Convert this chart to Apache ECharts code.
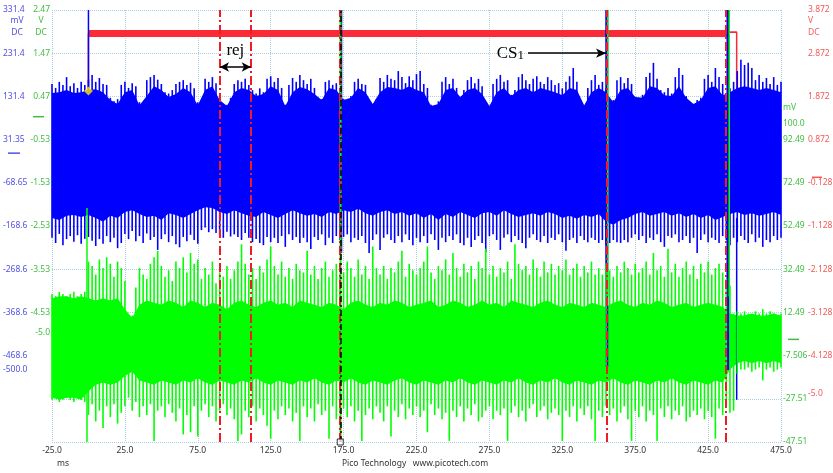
<!DOCTYPE html>
<html>
<head>
<meta charset="utf-8">
<script src="https://cdn.jsdelivr.net/npm/echarts@6/dist/echarts.min.js"></script>
<style>
  html, body { margin: 0; background: #fff; }
  #chart { width: 833px; height: 473px; }
</style>
</head>
<body>
<div id="chart"></div>
<script>
// Scope capture: blue (mV, left), green (mV, right), red (V, right), time in ms.
// Body envelopes are sampled every 5 ms, needle extents every 2.5 ms, from -25 ms.
const T0 = -25;
const BODY_STEP = 5;
const NEEDLE_STEP = 2.5;

const X_TICKS = [-25, 25, 75, 125, 175, 225, 275, 325, 375, 425, 475];

const BLUE_MV_TICKS = [331.35, 231.35, 131.35, 31.35, -68.65, -168.65, -268.65, -368.65, -468.65, -500];
const BLUE_MV_LABELS = ['331.4', '231.4', '131.4', '31.35', '-68.65', '-168.6', '-268.6', '-368.6', '-468.6', '-500.0'];
const GREEN_V_TICKS = [2.47, 1.47, 0.47, -0.53, -1.53, -2.53, -3.53, -4.53, -5];
const GREEN_V_LABELS = ['2.47', '1.47', '0.47', '-0.53', '-1.53', '-2.53', '-3.53', '-4.53', '-5.0'];
const GREEN_MV_TICKS = [100, 92.49, 72.49, 52.49, 32.49, 12.49, -7.506, -27.51, -47.51];
const GREEN_MV_LABELS = ['100.0', '92.49', '72.49', '52.49', '32.49', '12.49', '-7.506', '-27.51', '-47.51'];
const RED_V_TICKS = [3.872, 2.872, 1.872, 0.872, -0.128, -1.128, -2.128, -3.128, -4.128, -5];
const RED_V_LABELS = ['3.872', '2.872', '1.872', '0.872', '-0.128', '-1.128', '-2.128', '-3.128', '-4.128', '-5.0'];

// blue channel (mV)
const BLUE_TOP = [
  139, 141, 146, 139, 141, 146, 148, 141, 123, 114,
  141, 146, 111, 132, 155, 146, 130, 137, 151, 141,
  111, 146, 155, 123, 109, 141, 151, 146, 132, 137,
  155, 146, 109, 141, 153, 148, 137, 123, 151, 146,
  123, 128, 151, 141, 114, 141, 153, 151, 146, 155,
  146, 141, 109, 114, 146, 151, 130, 146, 151, 137,
  109, 141, 151, 132, 146, 151, 141, 151, 146, 141,
  134, 151, 146, 111, 141, 151, 141, 118, 146, 151,
  130, 128, 155, 151, 134, 132, 155, 128, 114, 123,
  151, 155, 134, 141, 151, 155, 151, 146, 151, 146,
  141];
const BLUE_BOT = [
  -150, -155, -145, -143, -148, -143, -150, -159, -145, -150,
  -136, -132, -141, -148, -145, -155, -139, -143, -150, -141,
  -132, -125, -127, -136, -141, -132, -139, -145, -148, -136,
  -143, -150, -141, -132, -139, -145, -141, -148, -136, -141,
  -132, -136, -129, -139, -145, -136, -132, -141, -136, -145,
  -139, -150, -141, -155, -141, -148, -136, -143, -150, -139,
  -136, -145, -132, -141, -148, -143, -139, -145, -136, -141,
  -150, -145, -152, -143, -148, -141, -159, -166, -155, -150,
  -141, -136, -145, -141, -136, -145, -139, -148, -141, -150,
  -143, -155, -148, -141, -136, -143, -139, -145, -141, -136,
  -143];
const BLUE_HI = [
  160, 151, 165, 158, 176, 155, 162, 151, 165, 158,
  170, 181, 165, 174, 160, 158, 128, 120, 125, 158,
  165, 151, 162, 155, 118, 114, 169, 176, 181, 170,
  160, 141, 138, 146, 160, 165, 169, 158, 163, 150,
  118, 120, 172, 165, 176, 162, 118, 114, 112, 128,
  160, 169, 165, 172, 158, 146, 138, 150, 141, 172,
  178, 165, 174, 151, 112, 158, 174, 165, 181, 169,
  160, 172, 151, 128, 125, 165, 169, 158, 162, 151,
  125, 120, 132, 165, 172, 160, 158, 118, 114, 125,
  174, 165, 181, 172, 169, 190, 176, 162, 178, 169,
  183, 190, 160, 151, 112, 109, 120, 165, 176, 160,
  172, 151, 125, 146, 169, 176, 162, 172, 155, 114,
  109, 160, 172, 181, 165, 169, 135, 146, 176, 183,
  169, 160, 172, 178, 165, 160, 176, 169, 158, 162,
  150, 165, 178, 197, 165, 112, 109, 151, 169, 181,
  158, 165, 151, 125, 123, 169, 176, 162, 174, 160,
  130, 128, 135, 176, 186, 209, 172, 146, 141, 151,
  138, 176, 197, 181, 132, 118, 114, 123, 128, 172,
  181, 165, 197, 176, 160, 118, 150, 165, 190, 216,
  204, 209, 197, 169, 181, 165, 174, 160, 176, 158,
  165];
const BLUE_LO = [
  -196, -208, -187, -213, -199, -192, -205, -190, -210, -198,
  -194, -203, -215, -199, -210, -192, -206, -196, -220, -208,
  -187, -199, -180, -204, -192, -208, -186, -201, -194, -224,
  -199, -188, -206, -192, -211, -218, -194, -204, -189, -201,
  -210, -178, -172, -183, -176, -185, -190, -196, -182, -193,
  -188, -194, -201, -185, -196, -206, -199, -208, -213, -194,
  -206, -196, -208, -192, -217, -188, -201, -194, -208, -196,
  -206, -222, -194, -201, -188, -213, -196, -208, -192, -201,
  -194, -188, -206, -196, -201, -192, -208, -231, -201, -188,
  -224, -196, -188, -201, -208, -192, -206, -188, -201, -213,
  -196, -206, -192, -208, -188, -201, -224, -196, -206, -192,
  -201, -188, -208, -213, -196, -217, -201, -192, -208, -229,
  -192, -188, -201, -224, -196, -188, -206, -192, -201, -208,
  -220, -196, -188, -201, -206, -192, -208, -196, -201, -188,
  -206, -226, -201, -196, -208, -192, -201, -206, -196, -201,
  -208, -201, -213, -208, -201, -206, -208, -201, -206, -196,
  -188, -201, -192, -208, -196, -201, -188, -206, -217, -192,
  -196, -188, -206, -201, -192, -208, -196, -231, -201, -188,
  -206, -196, -201, -208, -192, -201, -213, -196, -206, -192,
  -201, -208, -188, -206, -196, -217, -201, -206, -192, -201,
  -196];
// [time ms, low mV, high mV]
const BLUE_BURSTS = [[0, 100, 331.35], [173.4, -231, 331.35], [355.5, -495, 331.35], [438.6, -502, 331.35], [444.6, -571, -150]];
const BLUE_BURST_WIDTH = [1.5, 2, 3, 3, 1.5];

// green channel (mV)
const GREEN_TOP = [
  19, 20, 20, 19, 20, 19, 18, 19, 18, 19,
  14, 10, 16, 18, 17, 16, 18, 17, 15, 18,
  17, 15, 17, 16, 14, 17, 18, 16, 15, 17,
  18, 16, 17, 15, 18, 17, 16, 15, 17, 16,
  14, 17, 18, 16, 15, 17, 16, 18, 17, 15,
  16, 17, 18, 15, 16, 18, 17, 15, 16, 18,
  16, 17, 15, 18, 17, 16, 15, 17, 18, 16,
  15, 17, 16, 15, 17, 16, 15, 17, 18, 16,
  15, 17, 16, 18, 17, 15, 16, 17, 15, 16,
  17, 16, 15, 12, 11, 11, 12, 11, 11, 12,
  11];
const GREEN_BOT = [
  -27, -28, -27, -27, -28, -24, -21, -20, -21, -20,
  -17, -15, -19, -20, -21, -19, -20, -21, -19, -20,
  -18, -20, -21, -19, -20, -21, -19, -20, -18, -20,
  -21, -19, -20, -21, -19, -20, -18, -20, -21, -19,
  -20, -18, -20, -21, -19, -20, -21, -19, -18, -20,
  -21, -19, -20, -21, -19, -20, -18, -20, -21, -19,
  -20, -21, -19, -20, -18, -20, -21, -19, -20, -18,
  -20, -21, -19, -20, -21, -19, -20, -18, -20, -21,
  -19, -20, -21, -19, -20, -18, -20, -21, -19, -20,
  -21, -19, -20, -14, -11, -10, -11, -10, -11, -10,
  -11];
const GREEN_HI = [
  21, 20, 22, 21, 20, 21, 22, 20, 21, 22,
  36, 34, 30, 37, 33, 38, 35, 29, 36, 33,
  27, 10, 11, 24, 33, 30, 28, 35, 38, 41,
  34, 29, 32, 27, 36, 33, 38, 31, 40, 35,
  37, 28, 33, 30, 36, 26, 31, 29, 34, 28,
  32, 36, 44, 35, 30, 33, 28, 34, 31, 37,
  43, 34, 30, 36, 29, 33, 28, 35, 32, 31,
  41, 30, 34, 28, 33, 36, 29, 32, 35, 30,
  31, 36, 33, 29, 37, 30, 34, 28, 43, 33,
  30, 34, 28, 33, 31, 36, 41, 29, 35, 32,
  30, 33, 36, 43, 31, 28, 34, 32, 37, 30,
  40, 33, 29, 35, 31, 34, 28, 36, 33, 42,
  30, 34, 29, 33, 31, 36, 28, 44, 35, 32,
  34, 30, 37, 33, 29, 36, 31, 35, 30, 34,
  32, 37, 30, 33, 35, 29, 34, 31, 36, 30,
  33, 30, 35, 32, 29, 34, 31, 36, 33, 30,
  35, 31, 33, 36, 30, 40, 32, 34, 29, 42,
  31, 35, 29, 33, 36, 30, 34, 28, 35, 31,
  36, 30, 33, 35, 31, 28, 25, 12, 13, 12,
  13, 12, 11, 13, 12, 14, 12, 13, 12, 11,
  12];
const GREEN_LO = [
  -28, -27, -29, -28, -27, -28, -29, -27, -28, -29,
  -35, -30, -38, -33, -41, -31, -36, -30, -39, -34,
  -31, -27, -33, -29, -36, -31, -35, -30, -47, -33,
  -31, -36, -30, -34, -38, -32, -44, -35, -43, -31,
  -45, -33, -30, -36, -31, -38, -33, -30, -35, -32,
  -37, -47, -44, -33, -36, -31, -38, -32, -35, -40,
  -46, -33, -37, -31, -35, -32, -38, -34, -47, -31,
  -36, -32, -38, -30, -35, -33, -46, -31, -37, -34,
  -32, -36, -31, -38, -33, -47, -35, -32, -37, -31,
  -34, -38, -31, -45, -33, -36, -30, -37, -32, -35,
  -31, -36, -33, -43, -30, -35, -32, -37, -34, -47,
  -33, -36, -31, -38, -32, -35, -30, -38, -36, -33,
  -31, -37, -33, -35, -32, -47, -34, -31, -36, -33,
  -38, -32, -30, -36, -33, -31, -37, -34, -32, -35,
  -47, -33, -36, -31, -38, -32, -35, -31, -37, -47,
  -33, -36, -31, -35, -32, -38, -34, -31, -37, -47,
  -33, -36, -31, -38, -33, -35, -47, -32, -36, -31,
  -37, -33, -35, -31, -38, -36, -33, -35, -32, -37,
  -33, -36, -46, -32, -35, -31, -34, -33, -16, -14,
  -14, -13, -15, -14, -13, -19, -14, -13, -15, -14,
  -13];
const GREEN_BURSTS = [[-1, -47.51, 60.8], [172.9, -47.51, 152.49], [356.2, 20, 152.49], [439.5, 20, 152.49]];
const GREEN_BURST_WIDTH = [1.5, 2, 1.5, 1.5];

// red channel (V)
const RED_T = [-25, 0, 0, 444.6, 444.6, 475];
const RED_V = [0, 0, 3.33, 3.36, 0, 0];
const RED_PLATEAU_T = [0, 438.5];
const RED_PLATEAU_V = [3.33, 3.33];

// cursors, trigger, annotations
const RED_CURSORS = [90.2, 111.3, 172.7, 355.7, 437.3];
const BLACK_CURSORS = [173.3];
const TRIGGER_POINT = [[0, 144]];          // blue mV
const TRIGGER_MARK = [[172.7, -47.51]];    // green mV (bottom edge)
const REJ_SPAN = [90.2, 111.3, 2.553];     // from, to, red V level
const CS1_SPAN = [301.5, 355, 2.872];

const FONT = '"Noto Sans", "Open Sans", sans-serif';
const SERIF = '"Liberation Serif", "DejaVu Serif", serif';
const FS = 8.5;
const C = {
  blue: '#0000ff', green: '#00ff00', red: '#fa2a36',
  blueText: '#5050e6', greenText: '#3fbf3f', redText: '#f25a5a',
  grid: '#a9cfe3', text: '#333',
};

const tBody = (i) => T0 + i * BODY_STEP;
const tNeedle = (i) => T0 + i * NEEDLE_STEP;

const pickLabel = (ticks, labels) => (v) => {
  let best = 0;
  ticks.forEach((t, i) => { if (Math.abs(t - v) < Math.abs(ticks[best] - v)) best = i; });
  return labels[best];
};

function yAxis(position, min, max, ticks, labels, color, margin, align) {
  return {
    type: 'value', position, min, max,
    axisLine: { show: false, onZero: false }, axisTick: { show: false }, splitLine: { show: false },
    axisLabel: {
      customValues: ticks, formatter: pickLabel(ticks, labels),
      color, fontSize: FS, fontFamily: FONT, margin, hideOverlap: false, align,
    },
  };
}

function bodySeries(top, bot, color, yAxisIndex) {
  return {
    type: 'custom', yAxisIndex, silent: true, z: 2,
    data: [[T0, 0]],
    renderItem: (params, api) => {
      const pts = top.map((v, i) => api.coord([tBody(i), v]));
      for (let i = bot.length - 1; i >= 0; i--) pts.push(api.coord([tBody(i), bot[i]]));
      return { type: 'polygon', shape: { points: pts }, style: { fill: color } };
    },
  };
}

function segmentSeries(data, widths, color, yAxisIndex, z) {
  return {
    type: 'custom', yAxisIndex, silent: true, z,
    data,
    renderItem: (params, api) => {
      const a = api.coord([api.value(0), api.value(1)]);
      const b = api.coord([api.value(0), api.value(2)]);
      return {
        type: 'line',
        shape: { x1: a[0], y1: a[1], x2: b[0], y2: b[1] },
        style: { stroke: color, lineWidth: widths[params.dataIndex] ?? 1.6 },
      };
    },
  };
}

const needles = (lo, hi) => hi.map((v, i) => [tNeedle(i), lo[i], v]);

const chart = echarts.init(document.getElementById('chart'));

chart.setOption({
  animation: false,
  backgroundColor: '#fff',
  grid: { left: 52, right: 52, top: 10, bottom: 31, outerBoundsMode: 'none', containLabel: false },
  xAxis: [
    {
      type: 'value', min: -25, max: 475, position: 'bottom',
      axisLine: { show: false, onZero: false }, axisTick: { show: false }, splitLine: { show: false },
      axisLabel: { customValues: X_TICKS, formatter: (v) => v.toFixed(1), color: C.text, fontSize: FS, fontFamily: FONT, margin: 4 },
    },
    {
      // graticule only
      type: 'value', min: 0, max: 10, interval: 1, position: 'top',
      axisLine: { show: false, onZero: false }, axisTick: { show: false }, axisLabel: { show: false },
      splitLine: { show: true, lineStyle: { color: C.grid, type: 'dotted', width: 1 } },
    },
  ],
  yAxis: [
    yAxis('left', -7.53, 2.47, GREEN_V_TICKS, GREEN_V_LABELS, C.greenText, 2),
    yAxis('left', -668.65, 331.35, BLUE_MV_TICKS, BLUE_MV_LABELS, C.blueText, 49, 'left'),
    yAxis('right', -47.51, 152.49, GREEN_MV_TICKS, GREEN_MV_LABELS, C.greenText, 2),
    yAxis('right', -6.128, 3.872, RED_V_TICKS, RED_V_LABELS, C.redText, 27),
    {
      type: 'value', min: 0, max: 10, interval: 1, position: 'left',
      axisLine: { show: false, onZero: false }, axisTick: { show: false }, axisLabel: { show: false },
      splitLine: { show: true, lineStyle: { color: C.grid, type: 'dotted', width: 1 } },
    },
  ],
  series: [
    {
      type: 'line', yAxisIndex: 3, silent: true, symbol: 'none', z: 1,
      data: RED_T.map((t, i) => [t, RED_V[i]]),
      lineStyle: { color: C.red, width: 1.5 },
    },
    {
      type: 'line', yAxisIndex: 3, silent: true, symbol: 'none', z: 1,
      data: RED_PLATEAU_T.map((t, i) => [t, RED_PLATEAU_V[i]]),
      lineStyle: { color: C.red, width: 7 },
    },
    bodySeries(BLUE_TOP, BLUE_BOT, C.blue, 1),
    segmentSeries(needles(BLUE_LO, BLUE_HI), [], C.blue, 1, 2),
    segmentSeries(BLUE_BURSTS, BLUE_BURST_WIDTH, C.blue, 1, 3),
    bodySeries(GREEN_TOP, GREEN_BOT, C.green, 2),
    segmentSeries(needles(GREEN_LO, GREEN_HI), [], C.green, 2, 3),
    segmentSeries(GREEN_BURSTS, GREEN_BURST_WIDTH, C.green, 2, 4),
    {
      type: 'scatter', yAxisIndex: 1, silent: true, z: 6,
      data: TRIGGER_POINT, symbol: 'diamond', symbolSize: 9,
      itemStyle: { color: '#ffe800' },
    },
    {
      type: 'scatter', yAxisIndex: 2, silent: true, z: 7, clip: false,
      data: TRIGGER_MARK, symbol: 'rect', symbolSize: 6,
      itemStyle: { color: '#fff', borderColor: '#000', borderWidth: 1 },
      markLine: {
        silent: true, symbol: 'none', label: { show: false },
        data: [
          ...RED_CURSORS.map((t) => ({ xAxis: t, lineStyle: { color: '#ee1c24', width: 2, type: [9, 3, 2, 3] } })),
          ...BLACK_CURSORS.map((t) => ({ xAxis: t, lineStyle: { color: '#000', width: 1.5, type: [6, 3, 2, 3] } })),
        ],
      },
    },
    {
      type: 'line', yAxisIndex: 3, silent: true, z: 8, data: [],
      markLine: {
        silent: true,
        lineStyle: { color: '#000', width: 1.5, type: 'solid' },
        data: [
          [
            { coord: [REJ_SPAN[0], REJ_SPAN[2]], symbol: 'arrow', symbolSize: [7, 9] },
            {
              coord: [REJ_SPAN[1], REJ_SPAN[2]], symbol: 'arrow', symbolSize: [7, 9],
              label: { show: true, position: 'insideMiddleTop', distance: 8, formatter: 'rej', color: '#000', fontSize: 17, fontFamily: SERIF },
            },
          ],
          [
            { coord: [CS1_SPAN[0], CS1_SPAN[2]], symbol: 'none' },
            {
              coord: [CS1_SPAN[1], CS1_SPAN[2]], symbol: 'arrow', symbolSize: [7, 10],
              label: {
                show: true, position: 'start', distance: 4, formatter: '{a|CS}{b|1}',
                rich: {
                  a: { fontSize: 17, fontFamily: SERIF, color: '#000' },
                  b: { fontSize: 13, fontFamily: SERIF, color: '#000', padding: [4, 0, 0, 0] },
                },
              },
            },
          ],
        ],
      },
    },
  ],
});

// axis units, zero markers and footer
const zeroY = (axis) => chart.convertToPixel({ yAxisIndex: axis }, 0);
const txt = (x, y, text, fill, align = 'center') => ({
  type: 'text', x, y, silent: true,
  style: { text, fill, fontSize: FS, fontFamily: FONT, align, verticalAlign: 'middle' },
});
const dash = (x1, x2, y, stroke) => ({
  type: 'line', silent: true, shape: { x1, y1: y, x2, y2: y }, style: { stroke, lineWidth: 1.5 },
});

chart.setOption({
  graphic: [
    txt(17, 21, 'mV', C.blueText), txt(17, 33, 'DC', C.blueText),
    txt(41, 21, 'V', C.greenText), txt(41, 33, 'DC', C.greenText),
    txt(808, 21, 'V', C.redText, 'left'), txt(808, 33, 'DC', C.redText, 'left'),
    txt(783, 108, 'mV', C.greenText, 'left'),
    txt(57, 464, 'ms', C.text, 'left'),
    txt(415, 464, 'Pico Technology   www.picotech.com', C.text),
    dash(8, 20, zeroY(1), C.blueText),
    dash(33, 44, zeroY(0), C.greenText),
    dash(788, 799, zeroY(2), C.greenText),
    dash(812, 822, zeroY(3), C.redText),
  ],
});
</script>
</body>
</html>
